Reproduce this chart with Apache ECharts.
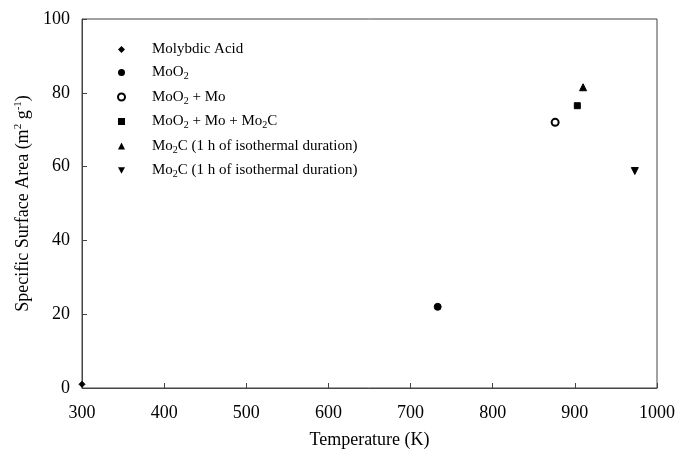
<!DOCTYPE html>
<html><head><meta charset="utf-8">
<script src="https://cdn.jsdelivr.net/npm/echarts@6/dist/echarts.min.js"></script>
<style>html,body{margin:0;padding:0;background:#fff}#c{width:677px;height:452px}</style>
</head><body><div id="c"></div>
<script>
var seriesNames = ['Molybdic Acid', 'MoO2', 'MoO2 + Mo', 'MoO2 + Mo + Mo2C', 'Mo2C (1 h of isothermal duration) a', 'Mo2C (1 h of isothermal duration) b'];
var legendLabels = ['Molybdic Acid', 'MoO{s|2}', 'MoO{s|2} + Mo', 'MoO{s|2} + Mo + Mo{s|2}C', 'Mo{s|2}C (1 h of isothermal duration)', 'Mo{s|2}C (1 h of isothermal duration)'];
var temps = [300, 733, 876, 903, 910, 973];
var areas = [1, 22, 72, 76.5, 81.5, 58.8];
var symbols = ['diamond', 'circle', 'emptyCircle', 'rect', 'triangle', 'path://M0,0L10,0L5,9Z'];
var symSizes = [6, 7, 7, 6, 7, 7];
var xTicks = [300, 400, 500, 600, 700, 800, 900, 1000];
var yTicks = [0, 20, 40, 60, 80, 100];

var chart = echarts.init(document.getElementById('c'));
var series = seriesNames.map(function (n, i) {
  return {
    name: n, type: 'scatter', symbol: symbols[i], symbolSize: symSizes[i],
    itemStyle: { color: '#000', borderColor: '#000', opacity: 1 },
    data: [[temps[i], areas[i]]], z: 5
  };
});
var serif = 'Liberation Serif';
chart.setOption({
  animation: false,
  grid: { left: 82, right: 20, top: 19, bottom: 64, show: true, borderColor: '#444', borderWidth: 1,
    containLabel: false, outerBoundsMode: 'none' },
  legend: {
    orient: 'vertical', left: 112, top: 37, itemGap: 8, itemWidth: 7, itemHeight: 7,
    data: seriesNames.map(function (n, i) { return { name: n, icon: symbols[i] }; }),
    formatter: function (name) { return legendLabels[seriesNames.indexOf(name)]; },
    textStyle: { fontFamily: serif, fontSize: 15, color: '#000', padding: [0, 0, 0, 22],
      rich: { s: { fontFamily: serif, fontSize: 10, color: '#000', padding: [8, 0, 0, 0] } } },
    itemStyle: { borderColor: '#000' }
  },
  xAxis: {
    type: 'value', min: 300, max: 1000, interval: 100,
    name: 'Temperature (K)', nameLocation: 'middle', nameGap: 43,
    nameTextStyle: { fontFamily: serif, fontSize: 18, color: '#000' },
    axisLine: { lineStyle: { color: '#444' } },
    axisTick: { inside: true, length: 5, lineStyle: { color: '#444' } },
    axisLabel: { fontFamily: serif, fontSize: 18, color: '#000', margin: 16, formatter: function (v) { return String(v); } },
    splitLine: { show: false }
  },
  yAxis: {
    type: 'value', min: 0, max: 100, interval: 20,
    name: 'Specific Surface Area (m{p|2} g{p|-1})', nameLocation: 'middle', nameGap: 46,
    nameTextStyle: { fontFamily: serif, fontSize: 18, color: '#000',
      rich: { p: { fontFamily: serif, fontSize: 11, color: '#000', padding: [0, 0, 9, 0] } } },
    axisLine: { lineStyle: { color: '#444' } },
    axisTick: { inside: true, length: 5, lineStyle: { color: '#444' } },
    axisLabel: { fontFamily: serif, fontSize: 18, color: '#000', margin: 12 },
    splitLine: { show: false }
  },
  series: series
});
</script></body></html>
